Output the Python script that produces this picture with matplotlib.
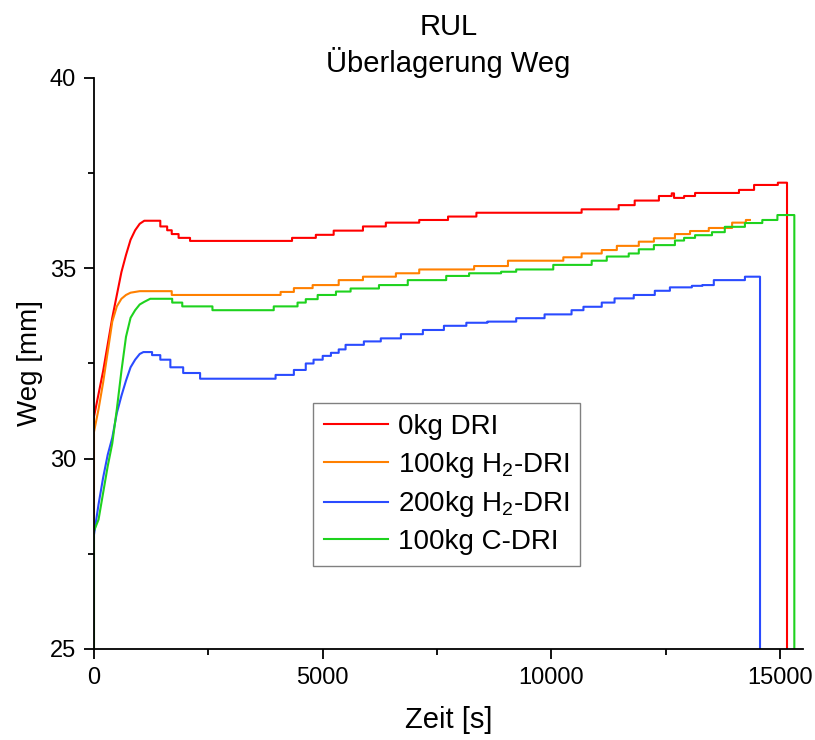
#!/usr/bin/env python3
"""
RUL - Ueberlagerung Weg: Weg ueber Zeit fuer vier Chargen.
Anlauf als Linie, danach Messwerte als Treppe.
"""

import matplotlib
matplotlib.use("Agg")
import matplotlib.pyplot as plt
from matplotlib.ticker import MultipleLocator

plt.rcParams["font.family"] = ["Liberation Sans", "DejaVu Sans"]
plt.rcParams["mathtext.fontset"] = "custom"
plt.rcParams["mathtext.rm"] = "Liberation Sans"
plt.rcParams["mathtext.it"] = "Liberation Sans:italic"

# --- 0kg DRI ---
t_0kg_an = [0, 0, 100, 200, 300, 400, 500, 600, 700, 800, 900, 1000]
w_0kg_an = [20, 31.1, 31.7, 32.3, 33.0, 33.7, 34.3, 34.9, 35.35, 35.75, 36.0, 36.17]
t_0kg = [1100, 1450, 1600, 1700, 1850, 2100, 4330, 4850, 5240, 5880, 6380, 7110, 7740,
         8360, 10660, 11470, 11820, 12350, 12630, 12680, 12900, 13140, 14100, 14430,
         14950, 15150]
w_0kg = [36.25, 36.1, 36.0, 35.9, 35.8, 35.72, 35.8, 35.88, 35.99, 36.1, 36.2, 36.27,
         36.36, 36.46, 36.55, 36.66, 36.78, 36.9, 36.97, 36.85, 36.9, 36.98, 37.06, 37.19,
         37.25, 20]

# --- 100kg H2-DRI ---
t_100h2_an = [0, 0, 100, 200, 300, 400, 500, 600, 700, 800]
w_100h2_an = [20, 30.7, 31.3, 32.0, 32.8, 33.6, 34.0, 34.2, 34.3, 34.36]
t_100h2 = [1000, 1700, 4080, 4370, 4780, 5350, 5880, 6600, 7110, 8310, 9050, 10260,
           10660, 11100, 11430, 11910, 12240, 12700, 13030, 13440, 13950, 14250, 14340]
w_100h2 = [34.4, 34.3, 34.38, 34.48, 34.56, 34.69, 34.78, 34.87, 34.97, 35.06, 35.2,
           35.29, 35.39, 35.48, 35.59, 35.7, 35.79, 35.9, 35.98, 36.06, 36.2, 36.27, 36.27]

# --- 200kg H2-DRI ---
t_200h2_an = [0, 0, 100, 200, 300, 400, 500, 600, 700, 800, 900, 1000]
w_200h2_an = [20, 28.0, 28.8, 29.5, 30.1, 30.55, 31.2, 31.65, 32.05, 32.4, 32.6, 32.75]
t_200h2 = [1080, 1270, 1450, 1670, 1950, 2320, 3970, 4370, 4630, 4800, 5000, 5180, 5350,
           5500, 5900, 6270, 6710, 7190, 7650, 8140, 8600, 9230, 9850, 10440, 10700,
           11100, 11380, 11800, 12260, 12590, 13070, 13300, 13550, 14230, 14560]
w_200h2 = [32.8, 32.72, 32.6, 32.4, 32.25, 32.1, 32.2, 32.33, 32.5, 32.6, 32.7, 32.78,
           32.87, 32.99, 33.08, 33.16, 33.27, 33.38, 33.49, 33.57, 33.6, 33.69, 33.79,
           33.9, 33.99, 34.1, 34.21, 34.3, 34.41, 34.5, 34.54, 34.56, 34.69, 34.78, 20]

# --- 100kg C-DRI ---
t_100c_an = [0, 0, 100, 200, 300, 400, 500, 600, 700, 800, 900, 1000, 1100]
w_100c_an = [20, 28.1, 28.4, 29.1, 29.8, 30.4, 31.3, 32.3, 33.2, 33.7, 33.9, 34.05, 34.12]
t_100c = [1230, 1710, 1930, 2590, 3930, 4450, 4630, 4890, 5290, 5610, 6230, 6860, 7700,
          8200, 8900, 9230, 10040, 10880, 11210, 11690, 11910, 12240, 12700, 12900,
          13140, 13510, 13790, 14230, 14610, 14940, 15310]
w_100c = [34.2, 34.1, 34.0, 33.9, 34.0, 34.1, 34.19, 34.3, 34.39, 34.47, 34.56, 34.69,
          34.8, 34.87, 34.91, 34.97, 35.09, 35.2, 35.31, 35.39, 35.5, 35.61, 35.73, 35.8,
          35.87, 35.95, 36.09, 36.19, 36.27, 36.4, 20]

SERIEN = [
    (t_0kg_an, w_0kg_an, t_0kg, w_0kg, "0kg DRI", "#ff0000"),
    (t_100h2_an, w_100h2_an, t_100h2, w_100h2, r"100kg H$_\mathregular{2}$-DRI", "#ff8000"),
    (t_200h2_an, w_200h2_an, t_200h2, w_200h2, r"200kg H$_\mathregular{2}$-DRI", "#2a4bff"),
    (t_100c_an, w_100c_an, t_100c, w_100c, "100kg C-DRI", "#1ed21e"),
]


def treppe(t, w):   # Stufenpunkte -> Linienpunkte (steps-post)
    xs, ys = [t[0]], [w[0]]
    for i in range(1, len(t)):
        xs += [t[i], t[i]]
        ys += [w[i - 1], w[i]]
    return xs, ys


def main():
    fig = plt.figure(figsize=(8.15, 7.4), dpi=100)
    ax = fig.add_axes([0.1153, 0.123, 0.870, 0.7716])

    for t_an, w_an, t, w, name, col in SERIEN:
        xs, ys = treppe(t, w)
        ax.plot(t_an + xs, w_an + ys, color=col, linewidth=1.5, label=name)

    ax.set_xlim(0, 15500)
    ax.set_ylim(25, 40)
    ax.xaxis.set_major_locator(MultipleLocator(5000))
    ax.xaxis.set_minor_locator(MultipleLocator(2500))
    ax.yaxis.set_major_locator(MultipleLocator(5))
    ax.yaxis.set_minor_locator(MultipleLocator(2.5))
    ax.tick_params(which="major", direction="out", length=7, width=1.3, labelsize=17, pad=6)
    ax.tick_params(which="minor", direction="out", length=4, width=1.3)
    for s in ("top", "right"):
        ax.spines[s].set_visible(False)
    for s in ("left", "bottom"):
        ax.spines[s].set_linewidth(1.3)

    ax.set_xlabel("Zeit [s]", fontsize=21, labelpad=12)
    ax.set_ylabel("Weg [mm]", fontsize=20, labelpad=5)
    ax.set_title("RUL\nÜberlagerung Weg", fontsize=21, pad=4, linespacing=1.25)

    leg = ax.legend(loc="upper left", bbox_to_anchor=(0.309, 0.431), borderaxespad=0,
                    fontsize=20, handlelength=2.3, handletextpad=0.35, labelspacing=0.35,
                    borderpad=0.4, fancybox=False, framealpha=1, edgecolor="#808080")
    leg.get_frame().set_linewidth(1.0)

    fig.savefig("out.png", dpi=100)


if __name__ == "__main__":
    main()
